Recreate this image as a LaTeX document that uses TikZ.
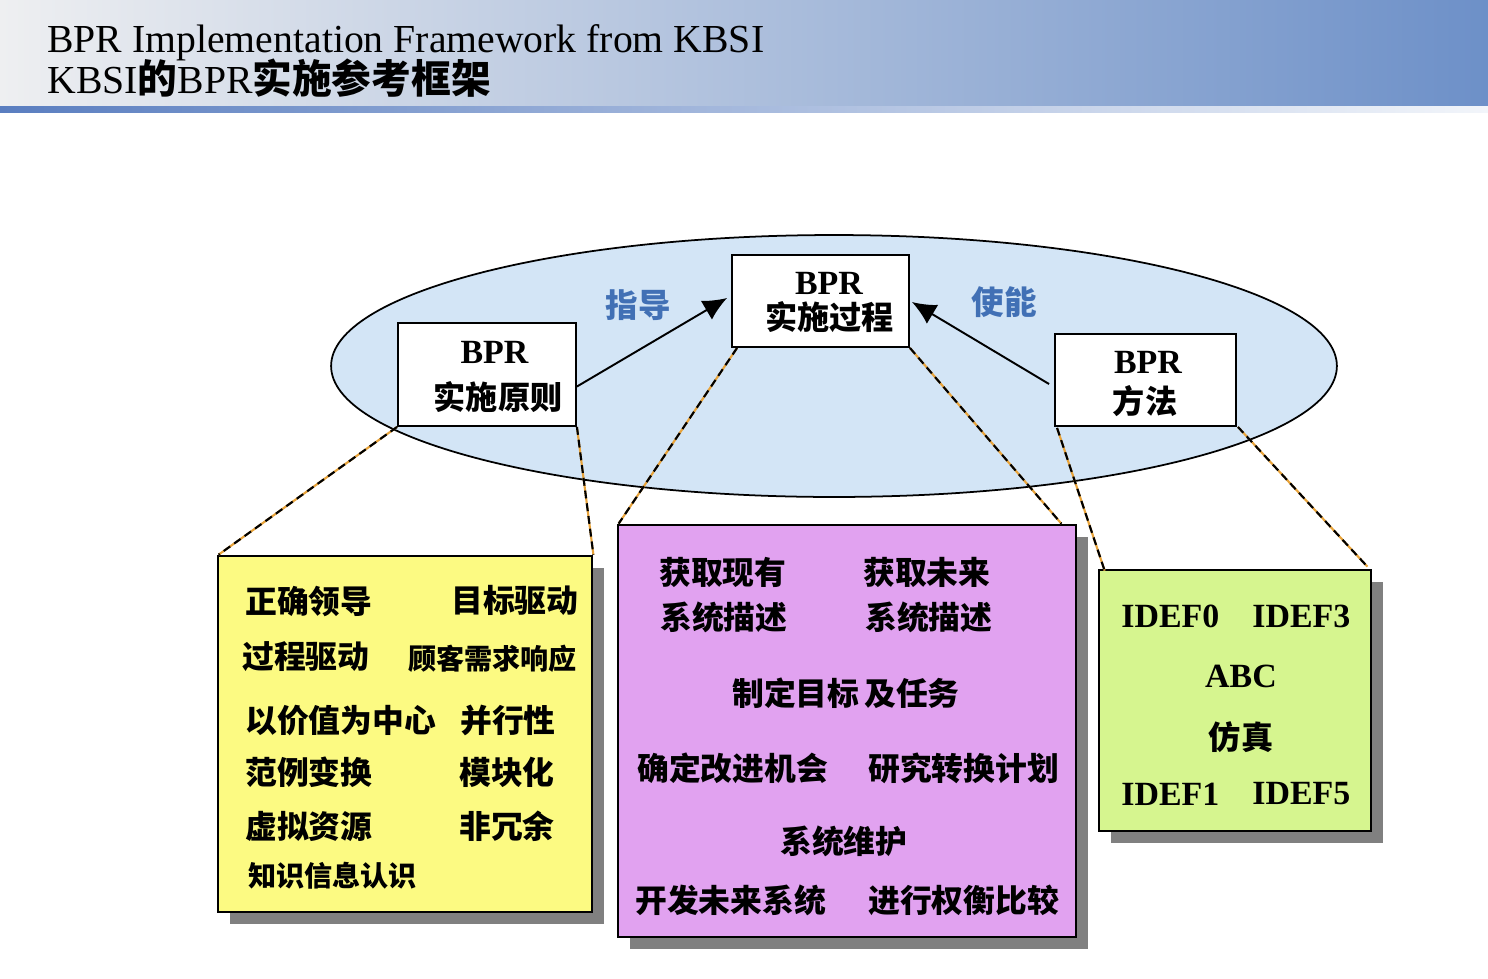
\documentclass[tikz,border=0pt]{standalone}
\usepackage{fontspec}
\setmainfont{Liberation Serif}
\newfontfamily\cjk{Noto Sans CJK SC}
\usetikzlibrary{arrows.meta,calc,shadows}

\definecolor{hdrL}{HTML}{EEEFF1}
\definecolor{hdrM}{HTML}{CAD4E6}
\definecolor{hdrR}{HTML}{6D90C8}
\definecolor{barL}{HTML}{5A7EC0}
\definecolor{barR}{HTML}{F2F5FA}
\definecolor{ellfill}{HTML}{D3E5F6}
\definecolor{yfill}{HTML}{FCFA82}
\definecolor{pfill}{HTML}{E1A2F0}
\definecolor{gfill}{HTML}{D6F58F}
\definecolor{shadowgray}{HTML}{808080}
\definecolor{dashorange}{HTML}{E8A33A}
\definecolor{labblue}{HTML}{4170B5}

\newcommand{\zh}[1]{{\cjk\bfseries #1}}

\begin{document}
\begin{tikzpicture}[x=0.02cm, y=-0.02cm,
  whitebox/.style={draw=black, line width=1.1pt, fill=white, inner sep=0},
  listbox/.style={draw=black, line width=1.6pt, inner sep=0,
    general shadow={fill=shadowgray, shadow xshift=7pt, shadow yshift=-7pt}},
  zhL/.style={anchor=west, inner sep=0, font=\fontsize{18.1pt}{20pt}\selectfont\cjk\bfseries},
  zhS/.style={anchor=west, inner sep=0, font=\fontsize{16pt}{18pt}\selectfont\cjk\bfseries},
  zhC/.style={inner sep=0, font=\fontsize{18.3pt}{20pt}\selectfont\cjk\bfseries},
  enB/.style={inner sep=0, font=\fontsize{19.3pt}{22pt}\selectfont\bfseries},
  enL/.style={anchor=west, inner sep=0, font=\fontsize{19.3pt}{22pt}\selectfont\bfseries},
  verb/.style={inner sep=0, text=labblue, font=\fontsize{18.5pt}{20pt}\selectfont\cjk\bfseries},
  flow/.style={line width=1.1pt, -{Latex[length=13.6pt,width=12.5pt]}},
  detail/.style={line width=1.2pt, dash pattern=on 4.5pt off 2.8pt,
    preaction={draw=dashorange, solid, line width=1.2pt}},
]
% page and header band
\fill[white] (0,0) rectangle (1488,978);
\useasboundingbox (0,0) rectangle (1488,978);
\shade[left color=hdrL, middle color=hdrM, right color=hdrR] (0,0) rectangle (1488,106);
\shade[left color=barL, right color=barR] (0,106) rectangle (1488,112);
\node[anchor=base west, inner sep=0, font=\fontsize{22.6pt}{26pt}\selectfont] (title1) at (47,52)
  {BPR Implementation Framework from KBSI};
\node[anchor=base west, inner sep=0, font=\fontsize{22.6pt}{26pt}\selectfont] (title2) at (47,93)
  {KBSI\zh{的}BPR\zh{实施参考框架}};

% framework ellipse
\draw[line width=1pt, fill=ellfill] (834,366) ellipse [x radius=10.06cm, y radius=2.62cm];

% three framework elements
\node[whitebox, minimum width=3.56cm, minimum height=2.06cm] (yz) at (487,374.5) {};
\node[whitebox, minimum width=3.54cm, minimum height=1.84cm] (gc) at (820.5,301) {};
\node[whitebox, minimum width=3.62cm, minimum height=1.84cm] (ff) at (1145.5,380) {};

% detail boxes
\node[listbox, fill=yfill, minimum width=7.48cm, minimum height=7.12cm] (yb) at (405,734) {};
\node[listbox, fill=pfill, minimum width=9.16cm, minimum height=8.24cm] (pb) at (847,731) {};
\node[listbox, fill=gfill, minimum width=5.44cm, minimum height=5.22cm] (gb) at (1235,700.5) {};

% dashed leaders from elements to their detail boxes
\draw[detail] (yz.south west) -- ($(yb.north west)+(2,0)$);
\draw[detail] (yz.south east) -- (yb.north east);
\draw[detail] ($(gc.south west)+(6,0)$) -- ($(pb.north west)+(2,0)$);
\draw[detail] (gc.south east) -- ($(pb.north east)+(-16,0)$);
\draw[detail] ($(ff.south west)+(3,1)$) -- ($(gb.north west)+(7,2)$);
\draw[detail] ($(ff.south east)+(1,0)$) -- ($(gb.north east)+(-5,-2)$);

% redraw element boxes on top of leaders
\node[whitebox, minimum width=3.56cm, minimum height=2.06cm] at (yz) {};
\node[whitebox, minimum width=3.54cm, minimum height=1.84cm] at (gc) {};
\node[whitebox, minimum width=3.62cm, minimum height=1.84cm] at (ff) {};

% element labels
\node[enB] (yzA) at (494.5,352) {BPR};
\node[zhC] (yzB) at (498,397) {实施原则};
\node[enB] (gcA) at (829,283) {BPR};
\node[zhC] (gcB) at (829.5,317) {实施过程};
\node[enB] (ffA) at (1148,362) {BPR};
\node[zhC] (ffB) at (1145,401) {方法};

% relations
\draw[flow] ($(yz.east)+(0,12)$) -- ($(gc.west)+(-4,-3)$);
\draw[flow] ($(ff.west)+(-5,4)$) -- ($(gc.east)+(2,1)$);
\node[verb] (guide) at (638,305) {指导};
\node[verb] (enable) at (1004,302) {使能};

% principles
\node[zhL] (p1) at (245,601) {正确领导};
\node[zhL] (p2) at (451,600) {目标驱动};
\node[zhL] (p3) at (242,657) {过程驱动};
\node[zhS] (p4) at (408,659) {顾客需求响应};
\node[zhL] (p5) at (245,720) {以价值为中心};
\node[zhL] (p6) at (460,720) {并行性};
\node[zhL] (p7) at (245,772) {范例变换};
\node[zhL] (p8) at (459,772) {模块化};
\node[zhL] (p9) at (245,826) {虚拟资源};
\node[zhL] (p10) at (459,826) {非冗余};
\node[zhS] (p11) at (248,876) {知识信息认识};

% process steps
\node[zhL] (s1) at (659,572) {获取现有};
\node[zhL] (s2) at (660,617) {系统描述};
\node[zhL] (s3) at (863,572) {获取未来};
\node[zhL] (s4) at (865,617) {系统描述};
\node[zhL] (s5) at (732,693) {制定目标\hspace{0.15em}及任务};
\node[zhL] (s6) at (637,768) {确定改进机会};
\node[zhL] (s7) at (868,768) {研究转换计划};
\node[zhL] (s8) at (780,841) {系统维护};
\node[zhL] (s9) at (635,900) {开发未来系统};
\node[zhL] (s10) at (868,900) {进行权衡比较};

% methods
\node[enL] (m1) at (1121,616) {IDEF0};
\node[enL] (m2) at (1252,616) {IDEF3};
\node[enB] (m3) at (1241,676) {ABC};
\node[zhC] (m4) at (1241,737) {仿真};
\node[enL] (m5) at (1121,794) {IDEF1};
\node[enL] (m6) at (1252,794) {IDEF5};
\end{tikzpicture}
\end{document}
